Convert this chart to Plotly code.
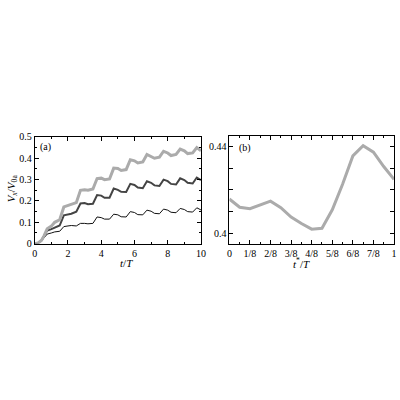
import plotly.graph_objects as go

# panel (a): time in periods
t_a = [0, 0.2, 0.4, 0.55, 0.75,
       1.0, 1.2, 1.5, 1.75, 2.0, 2.2, 2.5, 2.75,
       3.0, 3.2, 3.5, 3.75, 4.0, 4.2, 4.5, 4.75,
       5.0, 5.2, 5.5, 5.75, 6.0, 6.2, 6.5, 6.75,
       7.0, 7.2, 7.5, 7.75, 8.0, 8.2, 8.5, 8.75,
       9.0, 9.2, 9.5, 9.75, 10.0]

v_light = [0, 0.003, 0.015, 0.035, 0.07,
           0.082, 0.1, 0.112, 0.172, 0.178, 0.183, 0.192, 0.25,
           0.252, 0.25, 0.256, 0.305, 0.307, 0.3, 0.303, 0.354,
           0.352, 0.343, 0.347, 0.393, 0.388, 0.378, 0.383, 0.418,
           0.41, 0.4, 0.405, 0.433, 0.425, 0.413, 0.418, 0.443,
           0.435, 0.422, 0.425, 0.45, 0.435]

v_dark = [0, 0.003, 0.015, 0.035, 0.062,
          0.068, 0.075, 0.085, 0.133, 0.137, 0.14, 0.15, 0.188,
          0.19, 0.185, 0.187, 0.228, 0.225, 0.215, 0.215, 0.258,
          0.252, 0.243, 0.242, 0.28, 0.275, 0.263, 0.26, 0.292,
          0.285, 0.273, 0.27, 0.3, 0.293, 0.28, 0.277, 0.306,
          0.298, 0.285, 0.282, 0.31, 0.298]

v_thin = [0, 0.003, 0.012, 0.028, 0.045,
          0.05, 0.055, 0.058, 0.08, 0.083, 0.085, 0.083, 0.095,
          0.095, 0.093, 0.095, 0.125, 0.122, 0.115, 0.115, 0.138,
          0.135, 0.126, 0.125, 0.15, 0.146, 0.136, 0.135, 0.157,
          0.152, 0.142, 0.14, 0.162, 0.157, 0.147, 0.145, 0.165,
          0.16, 0.15, 0.148, 0.168, 0.158]

# panel (b): release time t*/T
t_b = [0, 0.0625, 0.125, 0.1875, 0.25, 0.3125, 0.375, 0.4375, 0.5,
       0.5625, 0.625, 0.6875, 0.75, 0.8125, 0.875, 0.9375, 1.0]
v_b = [0.4157, 0.4119, 0.4112, 0.4129, 0.4147, 0.4117, 0.4074, 0.4044, 0.4018,
       0.4022, 0.4107, 0.4225, 0.4356, 0.4403, 0.4373, 0.4307, 0.4248]

xa_ticks = [0, 2, 4, 6, 8, 10]
ya_ticks = [0, 0.1, 0.2, 0.3, 0.4, 0.5]
ya_text = ["0", "0.1", "0.2", "0.3", "0.4", "0.5"]
xb_ticks = [0, 0.125, 0.25, 0.375, 0.5, 0.625, 0.75, 0.875, 1.0]
xb_text = ["0", "1/8", "2/8", "3/8", "4/8", "5/8", "6/8", "7/8", "1"]
yb_ticks = [0.40, 0.41, 0.42, 0.43, 0.44]
yb_text = ["0.4", " ", " ", " ", "0.44"]

LIGHT = "#ababab"
FONT = "Liberation Serif"

fig = go.Figure()
fig.add_trace(go.Scatter(x=t_a, y=v_thin, mode="lines",
                         line=dict(color="#111111", width=1), xaxis="x", yaxis="y"))
fig.add_trace(go.Scatter(x=t_a, y=v_dark, mode="lines",
                         line=dict(color="#444444", width=2), xaxis="x", yaxis="y"))
fig.add_trace(go.Scatter(x=t_a, y=v_light, mode="lines",
                         line=dict(color=LIGHT, width=3), xaxis="x", yaxis="y"))
fig.add_trace(go.Scatter(x=t_b, y=v_b, mode="lines",
                         line=dict(color=LIGHT, width=3), xaxis="x2", yaxis="y2"))

axis_style = dict(showline=True, linecolor="black", linewidth=1, mirror="allticks",
                  ticks="inside", ticklen=4, tickcolor="black", showgrid=False,
                  zeroline=False, tickfont=dict(family=FONT, size=10, color="black"))

fig.update_layout(
    width=400, height=400,
    margin=dict(l=0, r=0, t=0, b=0),
    paper_bgcolor="white", plot_bgcolor="white",
    showlegend=False,
    font=dict(family=FONT, size=10, color="black"),
    xaxis=dict(domain=[0.081, 0.505], range=[0, 10], tickvals=xa_ticks,
               minor=dict(ticks="inside", ticklen=2, dtick=1, tickcolor="black"),
               anchor="y", **axis_style),
    yaxis=dict(domain=[0.3875, 0.6625], range=[0, 0.5], tickvals=ya_ticks, ticktext=ya_text,
               minor=dict(ticks="inside", ticklen=2, dtick=0.05, tickcolor="black"),
               anchor="x", **axis_style),
    xaxis2=dict(domain=[0.5775, 0.9975], range=[0, 1], tickvals=xb_ticks, ticktext=xb_text,
                minor=dict(ticks="inside", ticklen=2, dtick=0.0625, tickcolor="black"),
                anchor="y2", **axis_style),
    yaxis2=dict(domain=[0.3875, 0.665], range=[0.3951, 0.4448], tickvals=yb_ticks, ticktext=yb_text,
                anchor="x2", **axis_style),
    annotations=[
        dict(text="(a)", x=0.09, y=0.6375, xref="paper", yref="paper", showarrow=False,
             xanchor="left", yanchor="middle", font=dict(family=FONT, size=10)),
        dict(text="(b)", x=0.597, y=0.635, xref="paper", yref="paper", showarrow=False,
             xanchor="left", yanchor="middle", font=dict(family=FONT, size=10)),
        dict(text="<i>t</i>/<i>T</i>", x=0.2925, y=0.338, xref="paper", yref="paper",
             showarrow=False, font=dict(family=FONT, size=11)),
        dict(text="<i>t</i><sup>*</sup>/<i>T</i>", x=0.7875, y=0.338, xref="paper", yref="paper",
             showarrow=False, font=dict(family=FONT, size=11)),
        dict(text="<i>V<sub>x</sub></i>/<i>V</i><sub>0a</sub>", x=0.0, y=0.53,
             xref="paper", yref="paper", showarrow=False, textangle=-90,
             xanchor="left", font=dict(family=FONT, size=11)),
    ],
)

# drop the default page margin so the figure sits at the window's corner
fig.write_html("out.html", config={"displayModeBar": False},
               post_script="document.body.style.margin='0';")
